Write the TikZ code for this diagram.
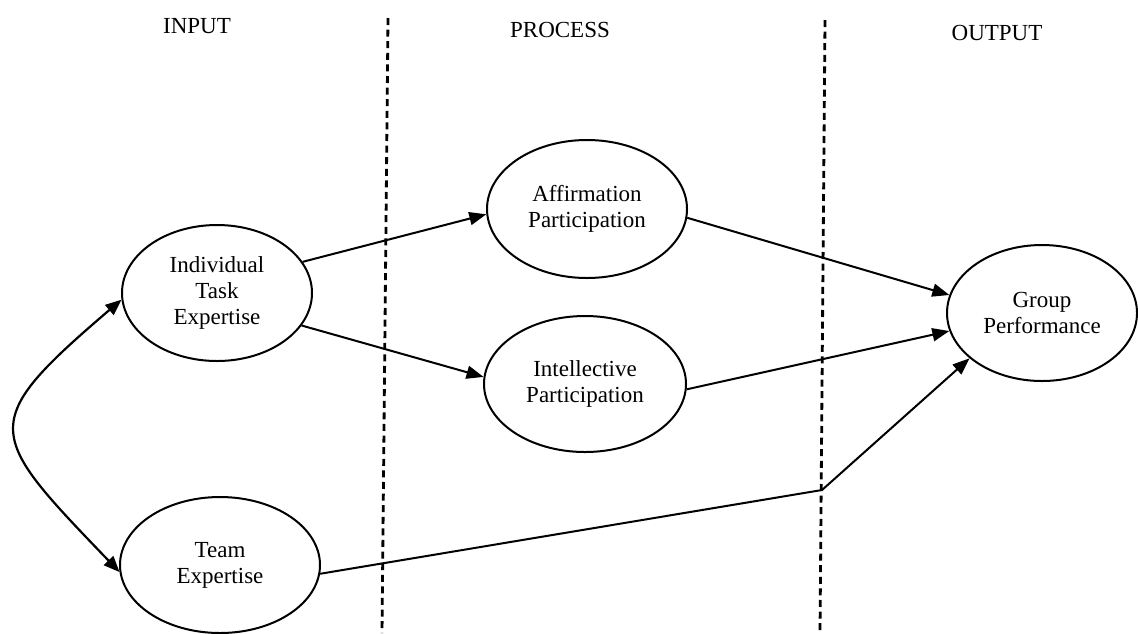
\documentclass[tikz,border=0pt]{standalone}
\usepackage{fontspec}
\setmainfont{Liberation Serif}
\usetikzlibrary{shapes.geometric,arrows.meta}

\begin{document}
\begin{tikzpicture}[x=0.5pt,y=-0.5pt,
  every node/.style={font=\fontsize{11.5}{13}\selectfont},
  construct/.style={ellipse,draw,line width=1pt,inner sep=0pt,align=center},
  link/.style={line width=1pt,-{Triangle[length=8.5pt,width=6.5pt]}},
  both/.style={line width=1.1pt,{Triangle[length=8pt,width=6.5pt]}-{Triangle[length=8pt,width=6.5pt]}},
  divider/.style={line width=1.4pt,dash pattern=on 3.5pt off 2.3pt},
  heading/.style={anchor=base}]
  \useasboundingbox (0,0) rectangle (1138,633);

  % column headings
  \node[heading] (hin)  at (197,33) {INPUT};
  \node[heading] (hpro) at (560,37) {PROCESS};
  \node[heading] (hout) at (997,40) {OUTPUT};

  % column dividers
  \coordinate (d1top) at (388,18);
  \coordinate (d1bot) at (382,633);
  \coordinate (d2top) at (825,20);
  \coordinate (d2bot) at (820,633);
  \draw[divider] (d1top) -- (d1bot);
  \draw[divider] (d2top) -- (d2bot);

  % constructs
  \node[construct,minimum width=95pt,minimum height=68pt] (ite) at (217,293) {Individual\\Task\\Expertise};
  \node[construct,minimum width=100pt,minimum height=68pt] (te) at (220,565) {Team\\Expertise};
  \node[construct,minimum width=100pt,minimum height=69pt] (ap) at (587,209) {Affirmation\\Participation};
  \node[construct,minimum width=101pt,minimum height=68pt] (ip) at (585,384) {Intellective\\Participation};
  \node[construct,minimum width=95pt,minimum height=68pt] (gp) at (1042,313) {Group\\Performance};

  % paths
  \draw[link] (ite.20) -- (ap.183);
  \draw[link] (ite.-21) -- (ip.176);
  \draw[link] (ap.-5) -- (gp.169);
  \draw[link] (ip.-3) -- (gp.191);
  \coordinate (bend) at (822,490);
  \draw[link] (te.-5) -- (bend) -- (gp.212);

  % correlation between the inputs
  \draw[both] (te.184) .. controls (-14,433) and (-24,424) .. (ite.184);
\end{tikzpicture}
\end{document}
